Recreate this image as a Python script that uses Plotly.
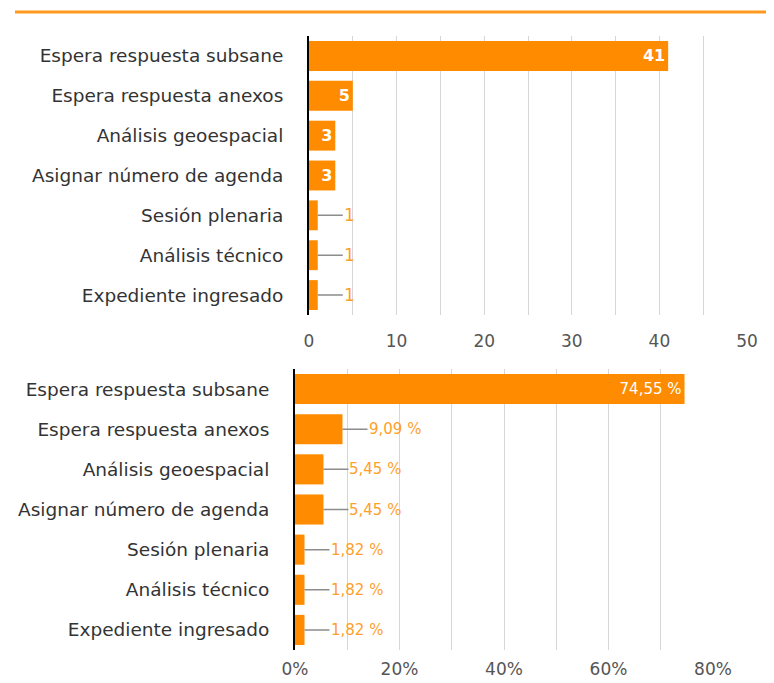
import plotly.graph_objects as go

# data
categories = ['Espera respuesta subsane', 'Espera respuesta anexos', 'Análisis geoespacial',
              'Asignar número de agenda', 'Sesión plenaria', 'Análisis técnico',
              'Expediente ingresado']
counts = [41, 5, 3, 3, 1, 1, 1]
percents = [74.55, 9.09, 5.45, 5.45, 1.82, 1.82, 1.82]
count_ticks = [0, 10, 20, 30, 40, 50]
pct_ticks = [0, 20, 40, 60, 80]

W, H = 774, 683
OFF = 8  # page body margin
bar_color = '#ff8c00'
label_orange = '#ff9f2a'
font_family = 'DejaVu Sans'

def px_x(p):
    return (p - OFF) / W

def px_y(p):
    return 1 - (p - OFF) / H

count_text = [str(v) for v in counts]
pct_text = ['{:.2f} %'.format(v).replace('.', ',') for v in percents]

fig = go.Figure()

fig.add_trace(go.Bar(
    x=counts, y=categories, orientation='h', xaxis='x', yaxis='y',
    marker=dict(color=bar_color, line=dict(width=0)),
    text=['<b>' + t + '</b>' if v >= 3 else '' for t, v in zip(count_text, counts)],
    textposition='inside', insidetextanchor='end', textangle=0,
    textfont=dict(color='white', size=16, family=font_family),
    hoverinfo='skip', showlegend=False))

fig.add_trace(go.Bar(
    x=percents, y=categories, orientation='h', xaxis='x2', yaxis='y2',
    marker=dict(color=bar_color, line=dict(width=0)),
    text=[t if v >= 20 else '' for t, v in zip(pct_text, percents)],
    textposition='inside', insidetextanchor='end', textangle=0,
    textfont=dict(color='white', size=15, family=font_family),
    hoverinfo='skip', showlegend=False))

# outside labels with a short leader line
annotations = []
for cat, v, t in zip(categories, counts, count_text):
    if v < 3:
        annotations.append(dict(x=v, y=cat, xref='x', yref='y', text=t,
                                showarrow=True, arrowhead=0, arrowwidth=1.5,
                                arrowcolor='#8c8c8c', ax=25, ay=0,
                                xanchor='left', borderpad=0,
                                font=dict(color=label_orange, size=17, family=font_family)))
for cat, v, t in zip(categories, percents, pct_text):
    if v < 20:
        annotations.append(dict(x=v, y=cat, xref='x2', yref='y2', text=t,
                                showarrow=True, arrowhead=0, arrowwidth=1.5,
                                arrowcolor='#8c8c8c', ax=25, ay=0,
                                xanchor='left', borderpad=0,
                                font=dict(color=label_orange, size=15, family=font_family)))

axis_common = dict(showgrid=True, gridcolor='#d6d6d6', gridwidth=1, automargin=False,
                   zeroline=False, showline=False, ticks='outside',
                   tickcolor='rgba(0,0,0,0)',
                   tickfont=dict(size=17, color='#555555', family=font_family))
yaxis_common = dict(autorange='reversed', automargin=False,
                    showline=True, linecolor='black', linewidth=2, ticks='outside',
                    ticklen=20, tickcolor='rgba(0,0,0,0)', showgrid=False,
                    tickfont=dict(size=18.5, color='#333333', family=font_family))

fig.update_layout(
    width=W, height=H,
    margin=dict(l=0, r=0, t=0, b=0),
    paper_bgcolor='white', plot_bgcolor='white',
    bargap=0.25,
    font=dict(family=font_family, color='#333333'),
    xaxis=dict(domain=[px_x(309), px_x(747)], range=[0, 50], anchor='y',
               tickvals=count_ticks, ticklen=11,
               minor=dict(showgrid=True, gridcolor='#d6d6d6', dtick=5, tick0=0, ticks=''),
               **axis_common),
    yaxis=dict(domain=[px_y(315), px_y(36)], anchor='x', **yaxis_common),
    xaxis2=dict(domain=[px_x(295), px_x(713)], range=[0, 80], anchor='y2',
                tickvals=pct_ticks, ticktext=[str(v) + '%' for v in pct_ticks],
                ticklen=4,
                minor=dict(showgrid=True, gridcolor='#d6d6d6', dtick=10, tick0=0, ticks=''),
                **axis_common),
    yaxis2=dict(domain=[px_y(650), px_y(369)], anchor='x2', **yaxis_common),
    annotations=annotations,
    shapes=[dict(type='line', xref='paper', yref='paper', x0=px_x(15), x1=1,
                 y0=px_y(12), y1=px_y(12), line=dict(color='#ff9a1f', width=3))],
)

fig.write_html('out.html')
